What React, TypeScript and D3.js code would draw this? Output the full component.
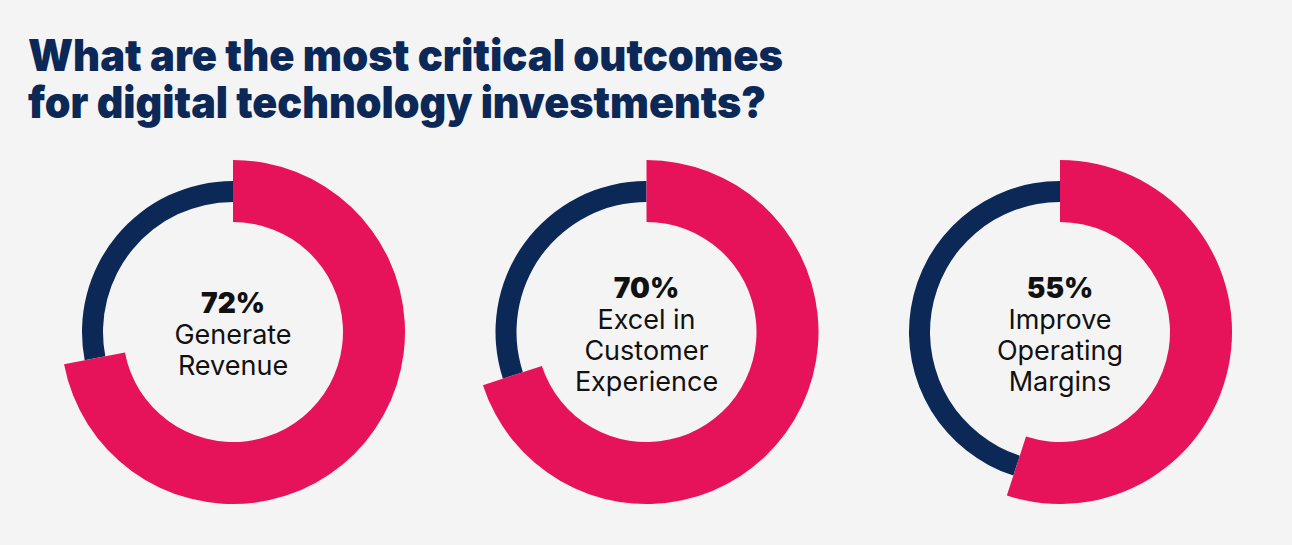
import React from "react";
import * as d3 from "d3";

const titleLines = [
  "What are the most critical outcomes",
  "for digital technology investments?",
];
const titleWidths = [755, 738];

const outcomes = ["72%", "70%", "55%"];
const values = [72, 70, 55];
const labels = [
  ["Generate", "Revenue"],
  ["Excel in", "Customer", "Experience"],
  ["Improve", "Operating", "Margins"],
];

const WIDTH = 1292;
const HEIGHT = 545;
const PINK = "#E6125A";
const NAVY = "#0B2857";

export default function App() {
  const x = d3
    .scalePoint<number>()
    .domain(values.map((_, i) => i))
    .range([233, 1060]);
  const cy = 332;

  const angle = d3.scaleLinear().domain([0, 100]).range([0, 2 * Math.PI]);

  const pinkArc = d3.arc<any>().innerRadius(110).outerRadius(172);
  const navyArc = d3.arc<any>().innerRadius(130).outerRadius(151);

  const lineGap = 31;

  return (
    <svg
      width={WIDTH}
      height={HEIGHT}
      style={{ position: "absolute", left: 0, top: 0, background: "#F4F4F4" }}
    >
      <rect width={WIDTH} height={HEIGHT} fill="#F4F4F4" />
      {titleLines.map((t, i) => (
        <text
          key={t}
          x={28}
          y={71 + i * 47}
          fill={NAVY}
          fontFamily="Inter, Roboto, sans-serif"
          fontWeight={900}
          fontSize={44}
          textLength={titleWidths[i]}
          lengthAdjust="spacingAndGlyphs"
        >
          {t}
        </text>
      ))}
      {values.map((v, i) => {
        const cx = x(i) as number;
        const lines = [outcomes[i], ...labels[i]];
        const n = lines.length;
        return (
          <g key={i} transform={`translate(${cx},${cy})`}>
            <path
              d={navyArc({ startAngle: angle(v), endAngle: angle(100) }) as string}
              fill={NAVY}
            />
            <path
              d={pinkArc({ startAngle: angle(0), endAngle: angle(v) }) as string}
              fill={PINK}
            />
            {lines.map((l, j) => (
              <text
                key={j}
                x={0}
                y={12 + (j - (n - 1) / 2) * lineGap}
                textAnchor="middle"
                fontFamily="Inter, Roboto, sans-serif"
                fontWeight={j === 0 ? 900 : 400}
                fontSize={j === 0 ? 28 : 27}
                fill="#111"
              >
                {l}
              </text>
            ))}
          </g>
        );
      })}
    </svg>
  );
}
